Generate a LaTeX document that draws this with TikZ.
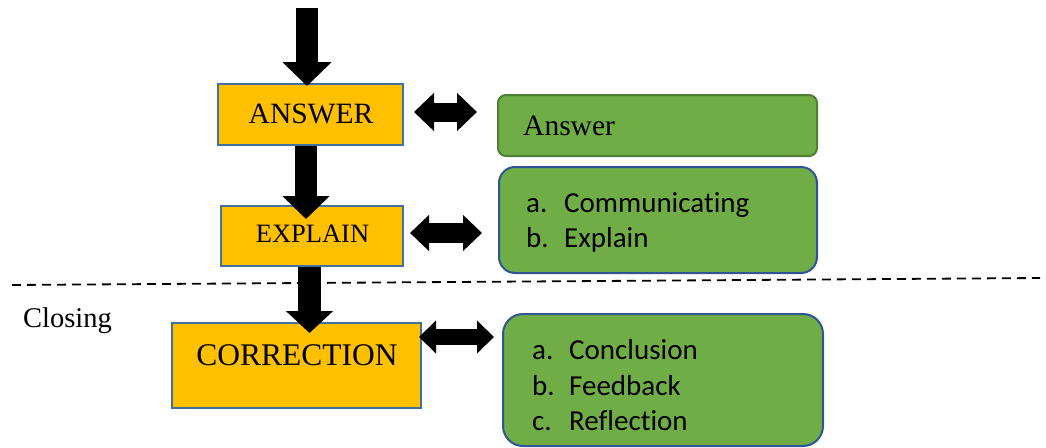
\documentclass[tikz,border=0pt]{standalone}
\usepackage{fontspec}
\setmainfont{Liberation Serif}
\newfontfamily\calfont[Ligatures=NoCommon]{Carlito}
\usetikzlibrary{arrows.meta}
\definecolor{orangefill}{HTML}{FFC000}
\definecolor{blueedge}{HTML}{41719C}
\definecolor{greenfill}{HTML}{70AD47}
\definecolor{greenedge}{HTML}{507E32}
\definecolor{blueedge2}{HTML}{2F5597}
\begin{document}
\begin{tikzpicture}[x=1pt,y=-1pt,
  obox/.style={draw=blueedge, fill=orangefill, line width=2pt, inner sep=0pt},
  gbox/.style={draw=blueedge2, fill=greenfill, line width=2pt, inner sep=0pt, rounded corners=#1},
  txt/.style={inner sep=0pt, anchor=base},
  ltxt/.style={inner sep=0pt, anchor=base west},
  downarrow/.style={line width=#1, line cap=butt},
  dblarrow/.style={line width=#1, line cap=butt}
]
\useasboundingbox (0,0) rectangle (1046,447);

% orange boxes
\node[obox, minimum width=185pt, minimum height=61pt] (a) at (310.5,114.5) {};
\node[obox, minimum width=182pt, minimum height=60pt] (e) at (312,236) {};
\node[obox, minimum width=249pt, minimum height=85pt] (c) at (296.5,365.5) {};

% green boxes
\node[gbox=8pt, draw=greenedge, minimum width=319pt, minimum height=61pt] (g1) at (657.5,125.5) {};
\node[gbox=16pt, minimum width=318pt, minimum height=106pt] (g2) at (658,220) {};
\node[gbox=20pt, minimum width=320pt, minimum height=132pt] (g3) at (663,380) {};

% texts
\node[txt, font=\fontsize{29.5}{33}\selectfont] (ta) at (311,123) {ANSWER};
\node[txt, font=\fontsize{26.5}{30}\selectfont] (te) at (312.5,242) {EXPLAIN};
\node[txt, font=\fontsize{31.5}{35}\selectfont] (tc) at (297,365) {CORRECTION};
\node[ltxt, font=\fontsize{28.5}{31}\selectfont] (closing) at (23,327) {Closing};
\node[ltxt, font=\fontsize{29.5}{33}\selectfont] (tg1) at (523,135) {Answer};

\begin{scope}[font=\calfont\fontsize{29}{32}\selectfont]
\node[ltxt] (l1a) at (526,212) {a.};
\node[ltxt] (l1b) at (564,212) {Communicating};
\node[ltxt] (l2a) at (526,247) {b.};
\node[ltxt] (l2b) at (564,247) {Explain};
\node[ltxt] (l3a) at (532,359) {a.};
\node[ltxt] (l3b) at (569,359) {Conclusion};
\node[ltxt] (l4a) at (532,395) {b.};
\node[ltxt] (l4b) at (569,395) {Feedback};
\node[ltxt] (l5a) at (532,430) {c.};
\node[ltxt] (l5b) at (569,430) {Reflection};
\end{scope}

% dashed separator
\coordinate (dl) at (12,285);
\coordinate (dr) at (1040,278);
\draw[line width=1.8pt, dash pattern=on 9pt off 6pt] (dl) -- (dr);

% down arrows
\coordinate (start) at (307,8);
\draw[downarrow=22pt, -{Triangle[width=48pt,length=24pt]}, shorten >=-3pt]
  (start) -- ([xshift=-3.5pt]a.north);
\draw[downarrow=22pt, -{Triangle[width=46pt,length=23pt]}, shorten >=-14pt]
  ([xshift=-4.5pt]a.south) -- ([xshift=-6pt]e.north);
\draw[downarrow=23pt, -{Triangle[width=46pt,length=22pt]}, shorten >=-11pt]
  ([xshift=-2.5pt]e.south) -- ([xshift=13pt]c.north);

% double arrows
\draw[dblarrow=19pt, {Triangle[width=37pt,length=20pt]}-{Triangle[width=37pt,length=20pt]}]
  ([xshift=10pt,yshift=2.5pt]a.east) -- ([xshift=-20pt,yshift=13.5pt]g1.west);
\draw[dblarrow=20pt, {Triangle[width=35pt,length=19pt]}-{Triangle[width=35pt,length=19pt]}]
  ([xshift=6pt,yshift=3pt]e.east) -- ([xshift=-16pt,yshift=-13pt]g2.west);
\draw[dblarrow=16pt, {Triangle[width=32pt,length=17pt]}-{Triangle[width=32pt,length=17pt]}]
  ([xshift=-3pt,yshift=28.5pt]c.east) -- ([xshift=-8pt,yshift=43pt]g3.west);
\end{tikzpicture}
\end{document}
